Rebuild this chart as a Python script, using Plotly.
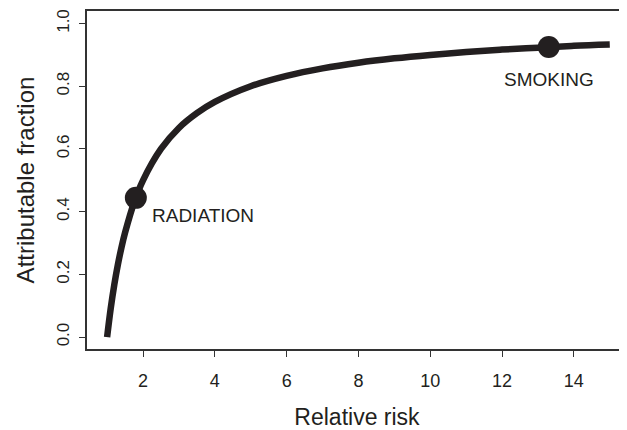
import plotly.graph_objects as go

# Curve values
relative_risk = [1.0, 1.1, 1.2, 1.3, 1.4, 1.5, 1.75, 2.0, 2.5, 3.0, 3.5, 4.0, 5.0, 6.0,
                 7.0, 8.0, 9.0, 10.0, 11.0, 12.0, 13.0, 14.0, 15.0]
attributable_fraction = [0.0, 0.091, 0.167, 0.231, 0.286, 0.333, 0.429, 0.5, 0.6, 0.667,
                         0.714, 0.75, 0.8, 0.833, 0.857, 0.875, 0.889, 0.9, 0.909, 0.917,
                         0.923, 0.929, 0.933]

# Highlighted exposures
point_names = ["RADIATION", "SMOKING"]
point_rr = [1.8, 13.3]
point_af = [0.444, 0.925]

x_ticks = [2, 4, 6, 8, 10, 12, 14]
y_ticks = [0.0, 0.2, 0.4, 0.6, 0.8, 1.0]
y_tick_labels = ["0.0", "0.2", "0.4", "0.6", "0.8", "1.0"]

ink = "#231f20"
font = "Liberation Sans, Arial, Helvetica, sans-serif"

fig = go.Figure()
fig.add_trace(go.Scatter(
    x=relative_risk, y=attributable_fraction, mode="lines",
    line=dict(color=ink, width=6.5, shape="spline", smoothing=1.0),
    hoverinfo="skip", showlegend=False,
))
fig.add_trace(go.Scatter(
    x=point_rr, y=point_af, mode="markers",
    marker=dict(color=ink, size=22, line=dict(width=0)),
    showlegend=False,
))

# label offsets (data units) relative to each point
label_dx = [1.86, 0.0]
label_dy = [-0.057, -0.102]
for name, x, y, dx, dy in zip(point_names, point_rr, point_af, label_dx, label_dy):
    fig.add_annotation(x=x + dx, y=y + dy, text=name, showarrow=False,
                       font=dict(size=19, color=ink, family=font),
                       xanchor="center", yanchor="middle")

# The page body adds an 8px offset, so the figure is sized to fill the rest of the window
fig.update_layout(
    width=619, height=422,
    margin=dict(l=79, r=0, t=3, b=81),
    paper_bgcolor="white", plot_bgcolor="white",
    font=dict(family=font, color=ink),
    xaxis=dict(
        range=[0.44, 15.48], tickvals=x_ticks, ticks="outside", ticklen=6,
        tickcolor="#333", tickwidth=1, showgrid=False, zeroline=False,
        showline=True, linecolor="#333", linewidth=1.5, mirror=True,
        tickfont=dict(size=18, color=ink), ticklabelstandoff=9, automargin=False,
        title=dict(text="Relative risk", font=dict(size=23, color=ink), standoff=29),
    ),
    yaxis=dict(
        range=[-0.038, 1.04], tickvals=y_ticks, ticktext=y_tick_labels,
        ticks="outside", ticklen=6, tickcolor="#333", tickwidth=1,
        showgrid=False, zeroline=False, showline=True, linecolor="#333",
        linewidth=1.5, tickangle=-90, tickfont=dict(size=17, color=ink),
        ticklabelstandoff=3, ticklabeloverflow="allow", automargin=False,
        title=dict(text="Attributable fraction", font=dict(size=24, color=ink), standoff=13),
    ),
)

fig.write_html("out.html")
